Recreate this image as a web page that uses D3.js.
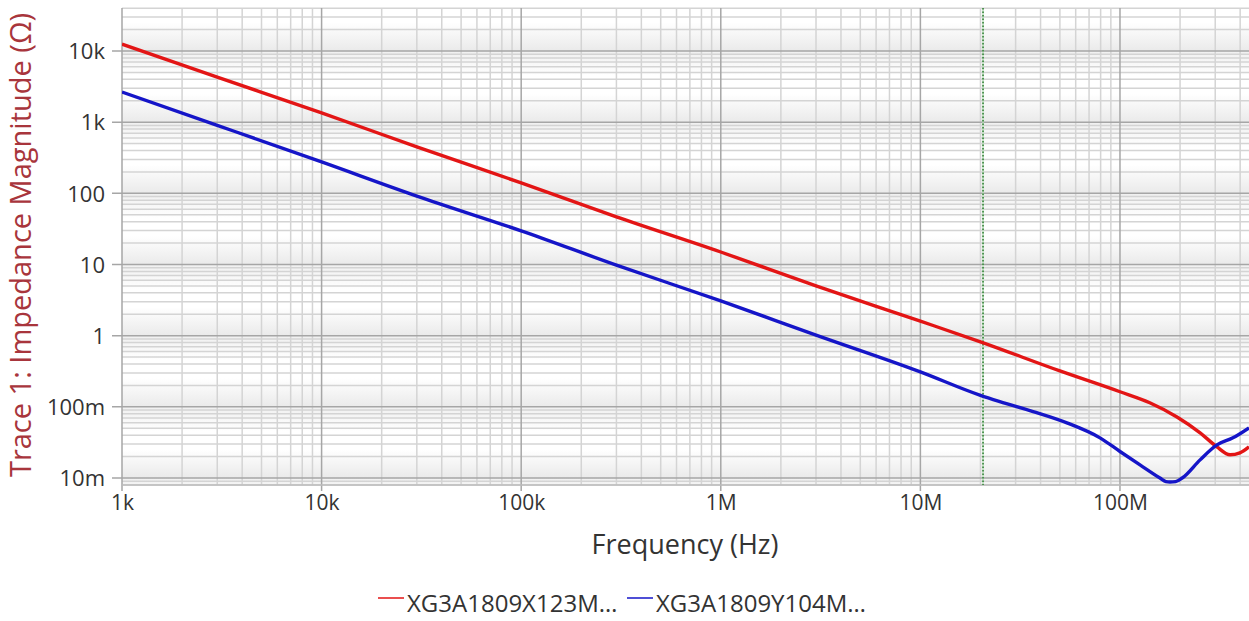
<!DOCTYPE html>
<html>
<head>
<meta charset="utf-8">
<script src="https://cdn.jsdelivr.net/npm/d3@7"></script>
<style>
  body { margin: 0; background: #fff; }
  svg { display: block; font-family: "Open Sans", "Noto Sans", sans-serif; }
</style>
</head>
<body>
<svg id="chart" width="1249" height="621"></svg>
<script>
// tick values and labels
var xTicks = [1e3, 1e4, 1e5, 1e6, 1e7, 1e8];
var xTickLabels = ["1k", "10k", "100k", "1M", "10M", "100M"];
var yTicks = [1e-2, 1e-1, 1, 10, 100, 1e3, 1e4];
var yTickLabels = ["10m", "100m", "1", "10", "100", "1k", "10k"];

// trace 1 (red) : XG3A1809X123M
var redFreq = [1e3, 3e3, 1e4, 3e4, 1e5, 3e5, 1e6, 3e6, 1e7, 2e7, 5e7, 1e8, 141e6, 193e6, 252e6, 306e6, 356e6, 399e6, 443e6];
var redZ    = [12500, 4300, 1350, 450, 140, 46.7, 15, 5, 1.6, 0.82, 0.32, 0.163, 0.114, 0.072, 0.0432, 0.0274, 0.0212, 0.0226, 0.0274];

// trace 1 (blue) : XG3A1809Y104M
var blueFreq = [1e3, 3e3, 1e4, 3e4, 1e5, 3e5, 1e6, 3e6, 1e7, 2e7, 25e6, 36.7e6, 54.2e6, 79.4e6, 1e8, 126e6, 158.6e6, 170e6, 178e6, 190e6, 205e6, 252e6, 306e6, 368e6, 443e6];
var blueZ    = [2650, 904, 276, 91.5, 29.7, 9.8, 3.08, 1.02, 0.31, 0.145, 0.1186, 0.0859, 0.0596, 0.0367, 0.0236, 0.0153, 0.0100, 0.0089, 0.0088, 0.0089, 0.0100, 0.018, 0.0292, 0.0367, 0.0507];

var legendNames = ["XG3A1809X123M\u2026", "XG3A1809Y104M\u2026"];
var markerFreq = 20.6e6;

var svg = d3.select("#chart");
var pLeft = 122, pRight = 1249, pTop = 8, pBottom = 485;

var x = d3.scaleLog().domain([1e3, 4.43e8]).range([pLeft, pRight]);
var y = d3.scaleLog().domain([0.00798, 40200]).range([pBottom, pTop]);

// background bands, one gradient per decade
var defs = svg.append("defs");
var grad = defs.append("linearGradient").attr("id", "band")
  .attr("x1", 0).attr("y1", 0).attr("x2", 0).attr("y2", 1);
grad.append("stop").attr("offset", "0%").attr("stop-color", "#f0f0f0");
grad.append("stop").attr("offset", "35%").attr("stop-color", "#ffffff");
grad.append("stop").attr("offset", "60%").attr("stop-color", "#ffffff");
grad.append("stop").attr("offset", "100%").attr("stop-color", "#eaeaea");

defs.append("clipPath").attr("id", "clip").append("rect")
  .attr("x", pLeft).attr("y", pTop).attr("width", pRight - pLeft).attr("height", pBottom - pTop);

var decades = d3.range(-3, 5).map(function (e) { return Math.pow(10, e); });
svg.append("g").attr("clip-path", "url(#clip)")
  .selectAll("rect").data(decades).enter().append("rect")
    .attr("x", pLeft)
    .attr("width", pRight - pLeft)
    .attr("y", function (d) { return y(d * 10); })
    .attr("height", function (d) { return y(d) - y(d * 10); })
    .attr("fill", "url(#band)");

// minor grid values
var xMinor = [], yMinor = [];
for (var e = 3; e <= 8; e++) {
  for (var k = 2; k <= 9; k++) {
    var v = k * Math.pow(10, e);
    if (v < 4.43e8) xMinor.push(v);
  }
}
for (var e2 = -3; e2 <= 4; e2++) {
  for (var k2 = 2; k2 <= 9; k2++) {
    var w = k2 * Math.pow(10, e2);
    if (w > 0.00798 && w < 40200) yMinor.push(w);
  }
}

var grid = svg.append("g");
grid.selectAll(".xm").data(xMinor).enter().append("line")
  .attr("x1", function (d) { return x(d); }).attr("x2", function (d) { return x(d); })
  .attr("y1", pTop).attr("y2", pBottom)
  .attr("stroke", "#d4d4d4").attr("stroke-width", 1.5);
grid.selectAll(".ym").data(yMinor).enter().append("line")
  .attr("y1", function (d) { return y(d); }).attr("y2", function (d) { return y(d); })
  .attr("x1", pLeft).attr("x2", pRight)
  .attr("stroke", "#d4d4d4").attr("stroke-width", 1.5);
grid.selectAll(".xM").data(xTicks).enter().append("line")
  .attr("x1", function (d) { return x(d); }).attr("x2", function (d) { return x(d); })
  .attr("y1", pTop).attr("y2", pBottom + 6)
  .attr("stroke", "#a6a6a6").attr("stroke-width", 1.5);
grid.selectAll(".yM").data(yTicks).enter().append("line")
  .attr("y1", function (d) { return y(d); }).attr("y2", function (d) { return y(d); })
  .attr("x1", pLeft - 10).attr("x2", pRight)
  .attr("stroke", "#a6a6a6").attr("stroke-width", 1.5);
grid.append("line")
  .attr("x1", pLeft).attr("x2", pRight).attr("y1", pBottom).attr("y2", pBottom)
  .attr("stroke", "#bdbdbd").attr("stroke-width", 1.5);

// marker line
svg.append("line")
  .attr("x1", x(markerFreq)).attr("x2", x(markerFreq)).attr("y1", pTop).attr("y2", pBottom)
  .attr("stroke", "#b9dcb9").attr("stroke-width", 1.5);
svg.append("line")
  .attr("x1", x(markerFreq)).attr("x2", x(markerFreq)).attr("y1", pTop).attr("y2", pBottom)
  .attr("stroke", "#2e7d32").attr("stroke-width", 1.5).attr("stroke-dasharray", "1.5,2");

// axes (labels only, lines drawn by the grid)
var xAxis = d3.axisBottom(x).tickValues(xTicks).tickSize(0)
  .tickFormat(function (d, i) { return xTickLabels[i]; });
svg.append("g").attr("transform", "translate(0," + (pBottom + 7) + ")").call(xAxis)
  .call(function (g) { g.select(".domain").remove(); })
  .selectAll("text").attr("font-size", 21).attr("fill", "#333")
  .attr("font-family", "'Open Sans', sans-serif");

var yAxis = d3.axisLeft(y).tickValues(yTicks).tickSize(0)
  .tickFormat(function (d, i) { return yTickLabels[i]; });
svg.append("g").attr("transform", "translate(" + (pLeft - 14) + ",0)").call(yAxis)
  .call(function (g) { g.select(".domain").remove(); })
  .selectAll("text").attr("font-size", 22).attr("fill", "#333")
  .attr("font-family", "'Open Sans', sans-serif").attr("dy", "0.35em");

// traces
var line = d3.line()
  .x(function (d) { return x(d[0]); })
  .y(function (d) { return y(d[1]); })
  .curve(d3.curveMonotoneX);
var plot = svg.append("g").attr("clip-path", "url(#clip)");
plot.append("path").datum(d3.zip(redFreq, redZ))
  .attr("d", line).attr("fill", "none").attr("stroke", "#e31515").attr("stroke-width", 3.4);
plot.append("path").datum(d3.zip(blueFreq, blueZ))
  .attr("d", line).attr("fill", "none").attr("stroke", "#1515c8").attr("stroke-width", 3.4);

// axis titles
svg.append("text")
  .attr("x", 685).attr("y", 554)
  .attr("text-anchor", "middle")
  .attr("font-size", 27).attr("fill", "#333")
  .text("Frequency (Hz)");
svg.append("text")
  .attr("transform", "translate(31,245) rotate(-90)")
  .attr("text-anchor", "middle")
  .attr("font-size", 29).attr("fill", "#a8353c")
  .text("Trace 1: Impedance Magnitude (\u03A9)");

// legend
var legendColors = ["#e31515", "#1515c8"];
var legendX = [378, 627];
var lg = svg.append("g");
legendNames.forEach(function (name, i) {
  lg.append("line")
    .attr("x1", legendX[i]).attr("x2", legendX[i] + 26)
    .attr("y1", 598).attr("y2", 598)
    .attr("stroke", legendColors[i]).attr("stroke-width", 1.5);
  lg.append("text")
    .attr("x", legendX[i] + 29).attr("y", 612)
    .attr("font-size", 24).attr("fill", "#333")
    .text(name);
});
</script>
</body>
</html>
